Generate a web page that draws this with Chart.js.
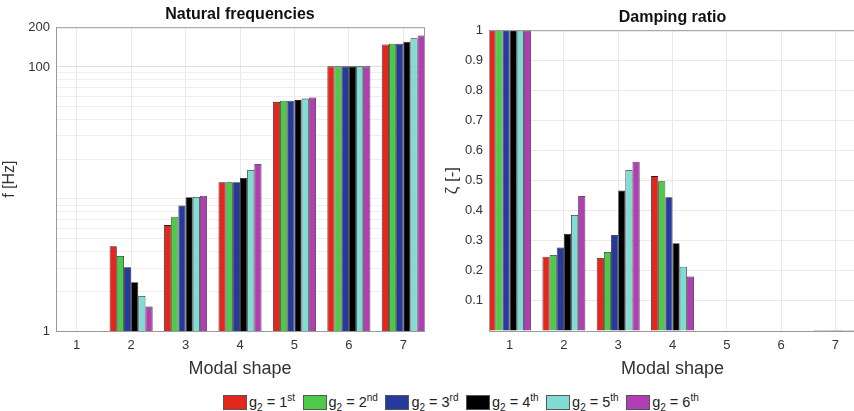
<!DOCTYPE html>
<html>
<head>
<meta charset="utf-8">
<script src="https://cdn.jsdelivr.net/npm/chart.js@4.4.0/dist/chart.umd.min.js"></script>
<style>
  body { margin: 0; width: 854px; height: 411px; overflow: hidden; background: #fff; position: relative;
         font-family: "Liberation Sans", Arial, sans-serif; }
  #leftBox { position: absolute; left: 0; top: 0; width: 440px; height: 380px; }
  #rightBox { position: absolute; left: 430px; top: 0; width: 430px; height: 380px; }
  #legend { position: absolute; left: 223px; top: 392px; display: flex; font-size: 14.5px; color: #222; white-space: nowrap; }
  #legend .item { display: flex; align-items: center; margin-right: 7.5px; }
  #legend .box { width: 22px; height: 13px; border: 1px solid #555; margin-right: 2px; }
  #legend sub, #legend sup { font-size: 10px; }
</style>
</head>
<body>
<div id="leftBox"><canvas id="freqChart"></canvas></div>
<div id="rightBox"><canvas id="dampChart"></canvas></div>
<div id="legend"></div>

<script>
// ---- data ----
var modes = [1, 2, 3, 4, 5, 6, 7];
var orders = ['st', 'nd', 'rd', 'th', 'th', 'th'];
var colors = ['#e4261c', '#4ec94a', '#26399c', '#000000', '#80dcd4', '#b13fb3'];

// natural frequencies [Hz], mode 1 has no bar
var freqG1 = [null, 4.38, 6.34, 13.4, 54.4, 101, 148];
var freqG2 = [null, 3.70, 7.34, 13.4, 55.4, 101, 150];
var freqG3 = [null, 3.04, 8.93, 13.4, 55.4, 101, 150];
var freqG4 = [null, 2.34, 10.3, 14.4, 56.1, 101, 155];
var freqG5 = [null, 1.84, 10.35, 16.6, 57.6, 101, 165];
var freqG6 = [null, 1.53, 10.6, 18.4, 58.7, 101, 173];

// damping ratio [-]
var dampG1 = [1, 0.247, 0.243, 0.515, 0, 0, 0.003];
var dampG2 = [1, 0.253, 0.263, 0.498, 0, 0, 0.003];
var dampG3 = [1, 0.278, 0.319, 0.445, 0, 0, 0.003];
var dampG4 = [1, 0.323, 0.467, 0.292, 0, 0, 0.003];
var dampG5 = [1, 0.386, 0.535, 0.214, 0, 0, 0.003];
var dampG6 = [1, 0.449, 0.563, 0.181, 0, 0, 0.003];

var freqTicks = [1, 2, 3, 4, 5, 6, 7, 8, 9, 10, 20, 30, 40, 50, 60, 70, 80, 90, 100, 200];
var freqTickLabels = [1, 100, 200];
var dampTicks = [0, 0.1, 0.2, 0.3, 0.4, 0.5, 0.6, 0.7, 0.8, 0.9, 1];
var dampTickLabels = ['', '0.1', '0.2', '0.3', '0.4', '0.5', '0.6', '0.7', '0.8', '0.9', '1'];

var freqSeries = [freqG1, freqG2, freqG3, freqG4, freqG5, freqG6];
var dampSeries = [dampG1, dampG2, dampG3, dampG4, dampG5, dampG6];

// ---- helpers ----
Chart.defaults.font.family = '"Liberation Sans", Arial, sans-serif';
Chart.defaults.animation = false;

function makeSets(series) {
  return series.map((arr, i) => ({
    label: 'g2 = ' + (i + 1) + orders[i],
    data: modes.map((m, j) => ({ x: m, y: arr[j] })),
    backgroundColor: colors[i],
    borderColor: '#222',
    borderWidth: 0.8,
    categoryPercentage: 0.79,
    barPercentage: 1
  }));
}

// box around the plot, like matlab's "box on"
const frame = {
  id: 'frame',
  afterDraw(chart) {
    const a = chart.chartArea, c = chart.ctx;
    c.save();
    c.strokeStyle = '#9a9a9a';
    c.lineWidth = 1;
    c.strokeRect(a.left + 0.5, a.top + 0.5, a.right - a.left, a.bottom - a.top);
    c.restore();
  }
};

function xAxis() {
  return {
    type: 'linear', min: 0.62, max: 7.38, offset: false,
    afterBuildTicks: s => { s.ticks = modes.map(v => ({ value: v })); },
    grid: { color: '#e9e9e9', drawTicks: false, offset: false },
    border: { color: '#777' },
    ticks: { color: '#333', font: { size: 13 }, padding: 7 },
    title: { display: true, text: 'Modal shape', color: '#333', font: { size: 18 }, padding: { top: 2, bottom: 0 } },
    afterFit: s => { s.height = 49; }
  };
}

// ---- left: natural frequencies (log) ----
new Chart(document.getElementById('freqChart'), {
  type: 'bar',
  data: { datasets: makeSets(freqSeries) },
  plugins: [frame],
  options: {
    responsive: true, maintainAspectRatio: false,
    layout: { padding: { left: 0, right: 16, top: 0, bottom: 0 } },
    plugins: {
      legend: { display: false },
      tooltip: { enabled: false },
      title: { display: true, fullSize: false, text: 'Natural frequencies', color: '#111',
               font: { size: 16, weight: 'bold' }, padding: { top: 5, bottom: 3 } }
    },
    scales: {
      x: xAxis(),
      y: {
        type: 'logarithmic', min: 1, max: 200,
        afterBuildTicks: s => { s.ticks = freqTicks.map(v => ({ value: v })); },
        grid: { color: ctx => ctx.tick && ctx.tick.value === 100 ? '#dedede' : '#eeeeee', drawTicks: false },
        border: { color: '#777' },
        ticks: { autoSkip: false, color: '#333', font: { size: 13 }, padding: 6,
                 callback: v => freqTickLabels.includes(v) ? String(v) : '' },
        title: { display: true, text: 'f [Hz]', color: '#333', font: { size: 16 }, padding: 0 },
        afterFit: s => { s.width = 56; }
      }
    }
  }
});

// ---- right: damping ratio ----
new Chart(document.getElementById('dampChart'), {
  type: 'bar',
  data: { datasets: makeSets(dampSeries) },
  plugins: [frame],
  options: {
    responsive: true, maintainAspectRatio: false,
    layout: { padding: { left: 12, right: 4, top: 0, bottom: 0 } },
    plugins: {
      legend: { display: false },
      tooltip: { enabled: false },
      title: { display: true, fullSize: false, text: 'Damping ratio', color: '#111',
               font: { size: 16, weight: 'bold' }, padding: { top: 8, bottom: 3 } }
    },
    scales: {
      x: xAxis(),
      y: {
        min: 0, max: 1,
        afterBuildTicks: s => { s.ticks = dampTicks.map(v => ({ value: v })); },
        grid: { color: '#e9e9e9', drawTicks: false },
        border: { color: '#777' },
        ticks: { autoSkip: false, color: '#333', font: { size: 13 }, padding: 6,
                 callback: (v, i) => dampTickLabels[i] },
        title: { display: true, text: 'ζ [-]', color: '#333', font: { size: 17 }, padding: 0 },
        afterFit: s => { s.width = 47; }
      }
    }
  }
});

// ---- legend ----
var lg = document.getElementById('legend');
colors.forEach((c, i) => {
  var it = document.createElement('div');
  it.className = 'item';
  it.innerHTML = '<span class="box" style="background:' + c + '"></span>' +
    '<span>g<sub>2</sub> = ' + (i + 1) + '<sup>' + orders[i] + '</sup></span>';
  lg.appendChild(it);
});
</script>
</body>
</html>
